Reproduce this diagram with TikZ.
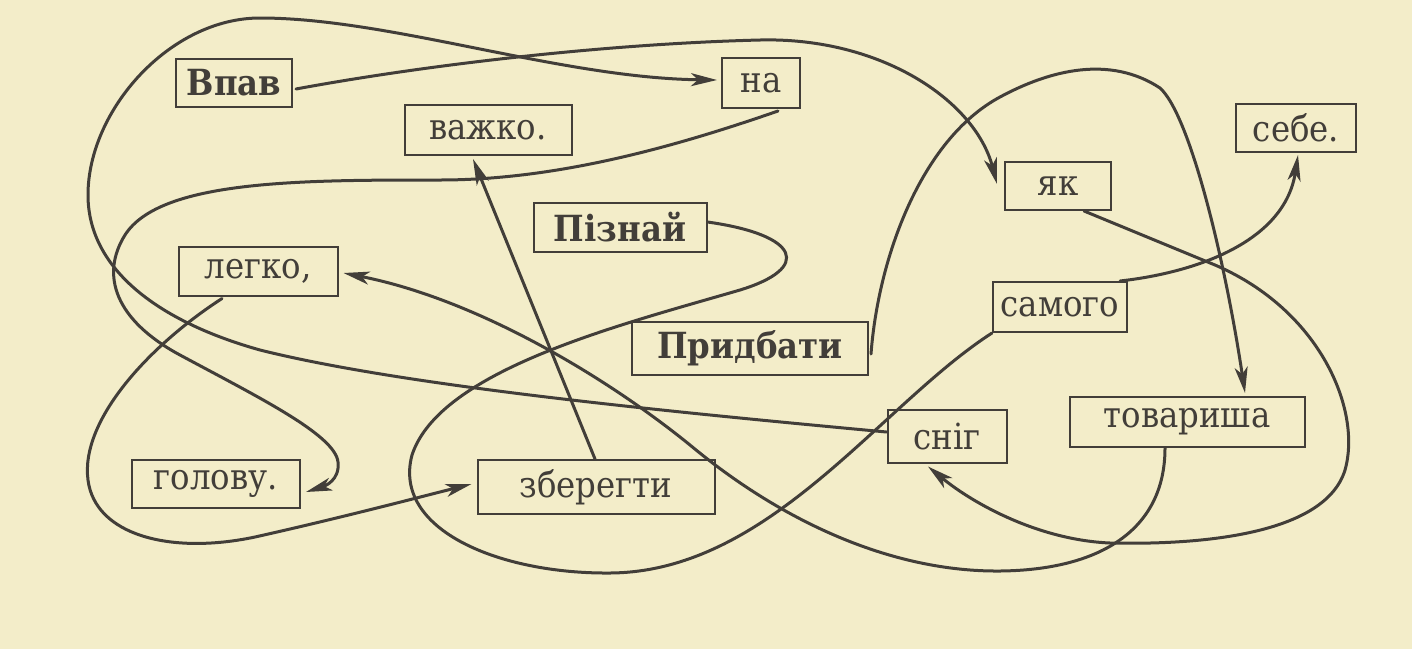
\documentclass[tikz,border=0pt]{standalone}
\usepackage{fontspec}
\setmainfont{DejaVu Serif}[FakeStretch=0.9]
\usetikzlibrary{
	arrows.meta,
	calc
}
\definecolor{PaperCream}{RGB}{243,237,201}
\definecolor{InkGray}{RGB}{66,62,57}

\tikzset{
	wordbox/.style={draw=InkGray, line width=1pt, text=InkGray, inner sep=0pt,
		font=\fontsize{18}{20}\selectfont},
	firstword/.style={wordbox, font=\fontsize{18}{20}\selectfont\bfseries},
	maze/.style={InkGray, line width=1.5pt, line cap=round},
	mazetip/.style={maze, -{Stealth[length=13pt,width=6.5pt,inset=3.5pt]}}
}

\begin{document}
\begin{tikzpicture}[x=0.5pt, y=-0.5pt]
		\fill[PaperCream] (0,0) rectangle (1412,649);
		\useasboundingbox (0,0) rectangle (1412,649);
		
		% слова
		\node[firstword, minimum width=58pt, minimum height=24pt] (vpav) at (234,83) {Впав};
		\node[wordbox, minimum width=39pt, minimum height=25pt] (na) at (761,83) {на};
		\node[wordbox, minimum width=83.5pt, minimum height=25pt] (vazhko) at (488,130) {важко.};
		\node[wordbox, minimum width=60pt, minimum height=24pt] (sebe) at (1296,128) {себе.};
		\node[wordbox, minimum width=53pt, minimum height=24pt] (yak) at (1058,186) {як};
		\node[firstword, minimum width=86.5pt, minimum height=24.5pt] (piznai) at (620,227) {Пізнай};
		\node[wordbox, minimum width=79.5pt, minimum height=24.5pt] (lehko) at (258,271) {легко,};
		\node[wordbox, minimum width=67pt, minimum height=25pt] (samoho) at (1060,307) {самого};
		\node[firstword, minimum width=118pt, minimum height=26.5pt] (prydbaty) at (750,348) {Придбати};
		\node[wordbox, minimum width=59.5pt, minimum height=26.5pt] (snig) at (947,436) {сніг};
		\node[wordbox, minimum width=117.5pt, minimum height=25pt] (tovarysha) at (1187,422) {товариша};
		\node[wordbox, minimum width=84pt, minimum height=24pt] (holovu) at (216,484) {голову.};
		\node[wordbox, minimum width=118.5pt, minimum height=27pt] (zberehty) at (596,487) {зберегти};
		
		% Впав як сніг на голову.
		\draw[mazetip] ($(vpav.east)+(3,6)$) .. controls (420,66) and (600,44) .. (760,40)
			.. controls (880,37) and (975,100) .. ($(yak.west)+(-7,-2)$);
		\draw[mazetip] ($(yak.south)+(26,0)$) -- (1215,265)
			.. controls (1320,310) and (1362,410) .. (1345,470)
			.. controls (1325,535) and (1200,545) .. (1110,543)
			.. controls (1040,540) and (975,505) .. ($(snig.south)+(-19,3)$);
		\draw[mazetip] ($(snig.west)+(0,-4)$) .. controls (650,410) and (400,385) .. (260,350)
			.. controls (160,322) and (88,270) .. (88,195)
			.. controls (88,110) and (170,18) .. (260,18)
			.. controls (390,18) and (560,78) .. ($(na.west)+(-4,-3)$);
		\draw[mazetip] ($(na.south)+(17,2)$) .. controls (680,145) and (560,180) .. (440,180)
			.. controls (300,180) and (160,180) .. (125,235)
			.. controls (100,275) and (115,320) .. (180,355)
			.. controls (260,398) and (335,435) .. (338,462)
			.. controls (340,480) and (325,486) .. ($(holovu.east)+(5,8)$);
		
		% Пізнай самого себе.
		\draw[maze] ($(piznai.east)+(0,-5)$) .. controls (800,235) and (812,268) .. (740,290)
			.. controls (620,325) and (440,370) .. (412,455)
			.. controls (392,530) and (500,574) .. (610,573)
			.. controls (770,572) and (880,405) .. (samoho.south west);
		\draw[mazetip] ($(samoho.north east)+(-8,0)$) .. controls (1200,272) and (1285,240) .. ($(sebe.south)+(2,2)$);
		
		% Придбати товариша легко, зберегти важко.
		\draw[mazetip] ($(prydbaty.east)+(2,6)$) .. controls (878,260) and (920,140) .. (1000,97)
			.. controls (1050,70) and (1110,55) .. (1160,88)
			.. controls (1190,115) and (1225,260) .. ($(tovarysha.north)+(58,-3)$);
		\draw[mazetip] ($(tovarysha.south)+(-22,0)$) .. controls (1165,530) and (1100,570) .. (1000,571)
			.. controls (890,572) and (780,520) .. (690,445)
			.. controls (610,380) and (480,300) .. ($(lehko.east)+(5,2)$);
		\draw[mazetip] ($(lehko.south)+(-36,2)$) .. controls (150,345) and (80,420) .. (88,480)
			.. controls (95,535) and (170,555) .. (255,537)
			.. controls (340,518) and (420,497) .. ($(zberehty.west)+(-5,-3)$);
		\draw[mazetip] ($(zberehty.north)+(-1,0)$) -- ($(vazhko.south)+(-15,3)$);
	\end{tikzpicture}
\end{document}
